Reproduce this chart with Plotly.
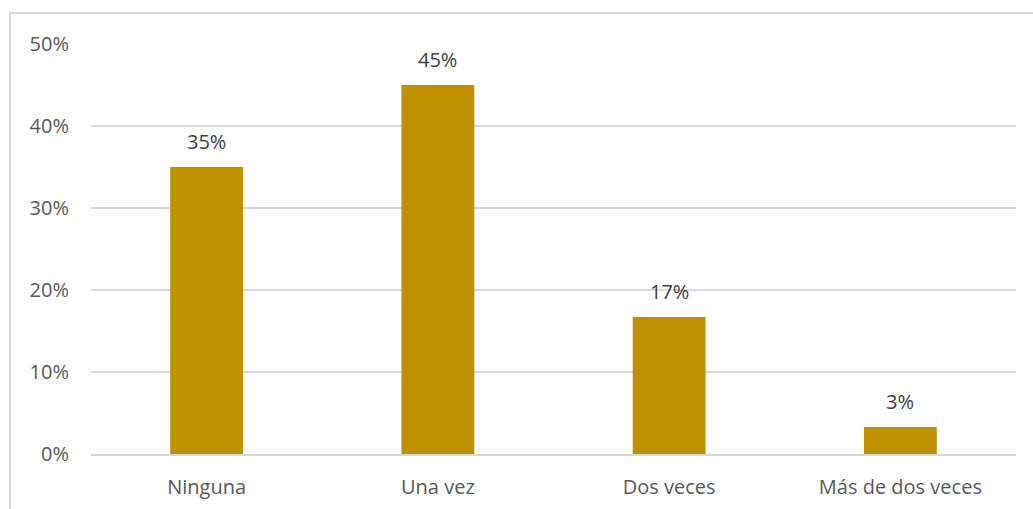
import plotly.graph_objects as go

categories = ["Ninguna", "Una vez", "Dos veces", "Más de dos veces"]
shares = [0.35, 0.45, 0.167, 0.033]
y_ticks = [0, 0.1, 0.2, 0.3, 0.4, 0.5]
y_tick_labels = ["0%", "10%", "20%", "30%", "40%", "50%"]

FONT = "Open Sans"
BAR = "#BF9000"
GRID = "#D9D9D9"
SIZE = 20

fig = go.Figure(
    go.Bar(
        x=categories,
        y=shares,
        marker=dict(color=BAR, line=dict(width=0)),
        width=0.315,
        hoverinfo="skip",
    )
)

# value labels above each bar
for cat, val in zip(categories, shares):
    fig.add_annotation(
        x=cat, y=val, text=f"{val:.0%}", showarrow=False,
        yanchor="bottom", yshift=10,
        font=dict(family=FONT, size=SIZE, color="#404040"),
    )

# light frame around the chart area
fig.add_shape(
    type="rect", xref="paper", yref="paper",
    x0=-0.0876, x1=1.2, y0=-0.3, y1=1.0756,
    line=dict(color=GRID, width=2), fillcolor="rgba(0,0,0,0)",
    layer="below",
)

fig.update_layout(
    width=1033, height=509,
    margin=dict(l=91, r=17, t=44, b=55, autoexpand=False),
    paper_bgcolor="white", plot_bgcolor="white",
    showlegend=False,
    font=dict(family=FONT, size=SIZE, color="#595959"),
    xaxis=dict(
        showgrid=False, showline=True, linecolor=GRID, linewidth=1.5,
        ticks="", ticklabelstandoff=14, zeroline=False, automargin=False,
        tickfont=dict(family=FONT, size=SIZE, color="#595959"),
    ),
    yaxis=dict(
        range=[0, 0.5], tickvals=y_ticks, ticktext=y_tick_labels,
        showgrid=True, gridcolor=GRID, gridwidth=1.5,
        zeroline=False, showline=False, ticks="", automargin=False,
        ticklabelstandoff=21,
        tickfont=dict(family=FONT, size=SIZE, color="#595959"),
    ),
)

fig.write_html("out.html")
